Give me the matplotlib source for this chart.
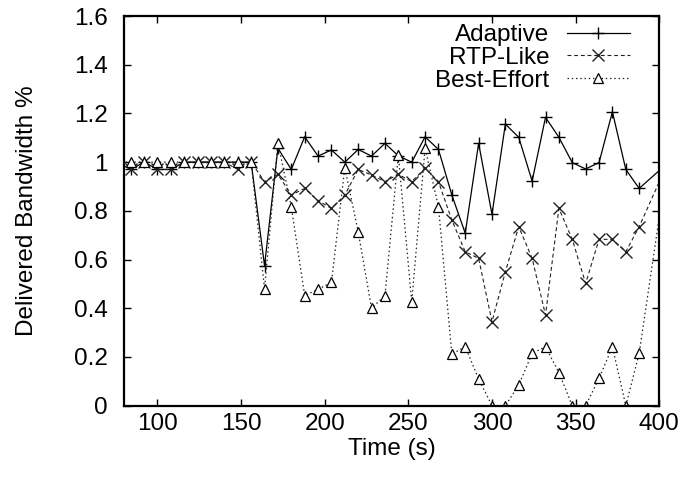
import matplotlib
matplotlib.use("Agg")
import matplotlib.pyplot as plt
from matplotlib.ticker import FormatStrFormatter

plt.rcParams['font.family'] = ['Liberation Sans', 'DejaVu Sans']

# sample times (s), one every 8 s; first and last sit just outside the x range
times = [76, 84, 92, 100, 108, 116, 124, 132, 140, 148, 156,
         164, 172, 180, 188, 196, 204, 212, 220, 228, 236,
         244, 252, 260, 268, 276, 284, 292, 300, 308, 316,
         324, 332, 340, 348, 356, 364, 372, 380, 388, 404]

adaptive = [1.0, 0.97, 1.0, 0.97, 0.97, 1.0, 1.0, 1.0, 1.0, 1.0, 1.0,
            0.575, 1.057, 0.97, 1.104, 1.025, 1.05, 1.0, 1.052, 1.025, 1.077,
            1.026, 1.0, 1.104, 1.052, 0.865, 0.708, 1.077, 0.786, 1.156, 1.102,
            0.922, 1.184, 1.102, 0.998, 0.972, 0.998, 1.207, 0.97, 0.892, 0.99]

rtp_like = [1.0, 0.97, 1.0, 0.97, 0.97, 1.0, 1.0, 1.0, 1.0, 0.97, 1.0,
            0.92, 0.95, 0.865, 0.892, 0.842, 0.81, 0.865, 0.97, 0.947, 0.92,
            0.95, 0.92, 0.975, 0.92, 0.762, 0.632, 0.605, 0.345, 0.55, 0.735,
            0.605, 0.372, 0.81, 0.683, 0.502, 0.683, 0.683, 0.632, 0.735, 0.98]

best_effort = [1.0, 1.0, 1.0, 1.0, 1.0, 1.0, 1.0, 1.0, 1.0, 1.0, 1.0,
               0.48, 1.08, 0.817, 0.452, 0.478, 0.506, 0.977, 0.714, 0.40, 0.452,
               1.029, 0.427, 1.057, 0.817, 0.212, 0.242, 0.11, 0.0, 0.0, 0.085,
               0.215, 0.242, 0.136, 0.0, 0.0, 0.112, 0.242, 0.0, 0.215, 0.96]

x_ticks = [100, 150, 200, 250, 300, 350, 400]
y_ticks = [0, 0.2, 0.4, 0.6, 0.8, 1.0, 1.2, 1.4, 1.6]

FS = 17.5


def draw():
    fig = plt.figure(figsize=(6.86, 4.82), dpi=100)
    ax = fig.add_axes([0.1808, 0.1583, 0.7802, 0.8085])

    ax.plot(times, adaptive, color='black', linestyle='-', linewidth=0.9,
            marker='+', markersize=9, markeredgewidth=1.0, label='Adaptive')
    ax.plot(times, rtp_like, color='#222222', linestyle=(0, (3.5, 2.5)), linewidth=0.8,
            marker='x', markersize=8, markeredgewidth=1.0, label='RTP-Like')
    ax.plot(times, best_effort, color='#222222', linestyle=(0, (1.2, 2.2)), linewidth=0.9,
            marker='^', markersize=7, markerfacecolor='white', markeredgecolor='black',
            markeredgewidth=0.9, label='Best-Effort')

    ax.set_xlim(80, 400)
    ax.set_ylim(0, 1.6)
    ax.set_xticks(x_ticks)
    ax.set_yticks(y_ticks)
    ax.yaxis.set_major_formatter(FormatStrFormatter('%g'))
    ax.tick_params(direction='in', length=5, width=1, labelsize=FS,
                   top=True, right=True)
    ax.tick_params(axis='x', pad=5.5)
    ax.tick_params(axis='y', pad=11.5)
    for sp in ax.spines.values():
        sp.set_linewidth(1.6)

    ax.set_xlabel('Time (s)', fontsize=FS)
    ax.set_ylabel('Delivered Bandwidth %', fontsize=FS)
    ax.xaxis.set_label_coords(0.5, -0.084)
    ax.yaxis.set_label_coords(-0.161, 0.5)

    ax.legend(loc='upper right', bbox_to_anchor=(0.945, 0.979), frameon=False,
              markerfirst=False, fontsize=FS, handlelength=2.6, handletextpad=0.7,
              labelspacing=0.03, borderaxespad=0, borderpad=0)

    fig.savefig('out.png', dpi=100)


if __name__ == '__main__':
    draw()
